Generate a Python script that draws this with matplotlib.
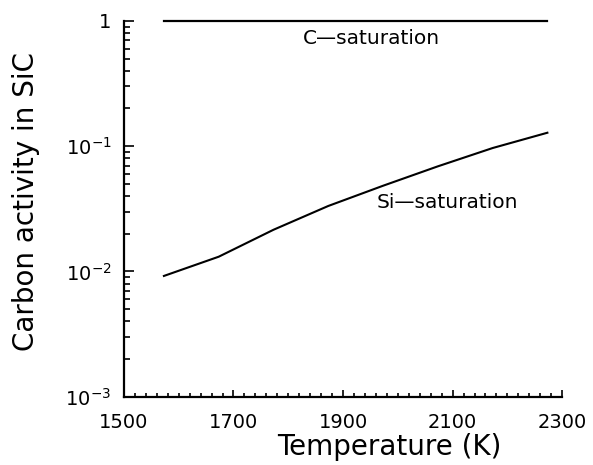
import matplotlib
matplotlib.use("Agg")
import matplotlib.pyplot as plt
from matplotlib.ticker import FixedLocator, FixedFormatter, MultipleLocator, LogLocator, NullFormatter

plt.rcParams['font.family'] = ['DejaVu Sans']
plt.rcParams['mathtext.default'] = 'regular'

temperature = [1573, 1673, 1773, 1873, 1973, 2073, 2173, 2273]
c_saturation = [1, 1, 1, 1, 1, 1, 1, 1]
si_saturation = [0.0092, 0.0131, 0.0215, 0.0333, 0.0483, 0.069, 0.0966, 0.128]
x_ticks = [1500, 1700, 1900, 2100, 2300]
y_ticks = [1e-3, 1e-2, 1e-1, 1]
y_tick_labels = ['$10^{-3}$', '$10^{-2}$', '$10^{-1}$', '1']

fig = plt.figure(figsize=(5.93, 4.65), dpi=100)
ax = fig.add_axes([0.209, 0.147, 0.739, 0.808])

ax.plot(temperature, c_saturation, color='black', lw=1.6, clip_on=False)
ax.plot(temperature, si_saturation, color='black', lw=1.5)

ax.set_yscale('log')
ax.set_xlim(1500, 2300)
ax.set_ylim(1e-3, 1)

ax.xaxis.set_major_locator(FixedLocator(x_ticks))
ax.xaxis.set_minor_locator(MultipleLocator(20))
ax.yaxis.set_major_locator(FixedLocator(y_ticks))
ax.yaxis.set_major_formatter(FixedFormatter(y_tick_labels))
ax.yaxis.set_minor_locator(LogLocator(base=10, subs=range(2, 10)))
ax.yaxis.set_minor_formatter(NullFormatter())

for s in ['top', 'right']:
    ax.spines[s].set_visible(False)
for s in ['left', 'bottom']:
    ax.spines[s].set_linewidth(1.6)

ax.tick_params(which='both', direction='in', width=1.2, labelsize=14, colors='black')
ax.tick_params(axis='y', which='major', length=7, pad=9)
ax.tick_params(axis='y', which='minor', length=4)
ax.tick_params(axis='x', which='major', length=5, pad=12)
ax.tick_params(axis='x', which='minor', length=3)

ax.set_xlabel('Temperature (K)', fontsize=20)
ax.xaxis.set_label_coords(0.605, -0.154)
ax.xaxis.label.set_verticalalignment('baseline')
ax.set_ylabel('Carbon activity in SiC', fontsize=20)
ax.yaxis.set_label_coords(-0.224, 0.52)
ax.yaxis.label.set_verticalalignment('center')

ax.text(1951, 0.726, 'C\u2014saturation', fontsize=14.5, ha='center', va='center')
ax.text(2091, 0.0352, 'Si\u2014saturation', fontsize=14.5, ha='center', va='center')

fig.savefig('out.png', dpi=100)
